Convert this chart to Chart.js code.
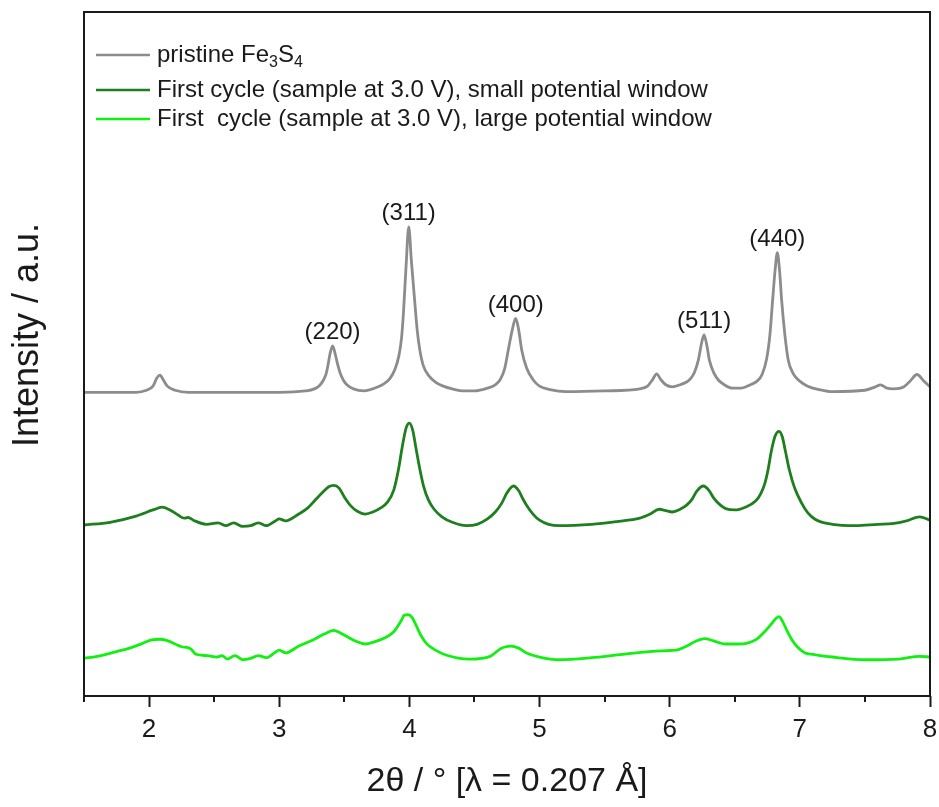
<!DOCTYPE html>
<html>
<head>
<meta charset="utf-8">
<title>Fe3S4 XRD patterns</title>
<script src="https://cdn.jsdelivr.net/npm/chart.js@4.4.1/dist/chart.umd.min.js"></script>
<style>
  html, body { margin: 0; padding: 0; background: #fff; }
  #wrap { width: 939px; height: 807px; }
</style>
</head>
<body>
<div id="wrap"><canvas id="xrd-chart"></canvas></div>
<script>
'use strict';

// 2theta positions and stacked intensities (a.u., offset per pattern)
const pristineX = [1.50, 1.90, 1.98, 2.03, 2.06, 2.084, 2.11, 2.14, 2.20, 2.30, 2.70, 3.00, 3.20, 3.27, 3.31, 3.34, 3.36,
    3.375, 3.39, 3.41, 3.43, 3.45, 3.47, 3.492, 3.52, 3.57, 3.65, 3.70, 3.76, 3.80, 3.85, 3.89, 3.92, 3.94, 3.955,
    3.975, 3.995, 4.015, 4.04, 4.06, 4.08, 4.107, 4.15, 4.20, 4.26, 4.33, 4.42, 4.50, 4.60, 4.66, 4.696, 4.73, 4.76,
    4.79, 4.817, 4.84, 4.863, 4.90, 4.952, 5.00, 5.08, 5.20, 5.50, 5.77, 5.83, 5.87, 5.90, 5.93, 5.97, 6.02, 6.08,
    6.13, 6.16, 6.19, 6.22, 6.245, 6.264, 6.285, 6.305, 6.34, 6.374, 6.42, 6.48, 6.55, 6.62, 6.669, 6.71, 6.745,
    6.77, 6.791, 6.81, 6.827, 6.845, 6.860, 6.885, 6.911, 6.95, 7.002, 7.06, 7.15, 7.25, 7.50, 7.58, 7.62, 7.67,
    7.72, 7.80, 7.85, 7.90, 7.95, 8.00];
const pristineY = [44.4, 44.4, 44.7, 45.3, 46.5, 46.9, 46.2, 45.3, 44.7, 44.4, 44.4, 44.4, 44.6, 44.9, 45.4, 46.2, 47.1,
    48.4, 50.0, 51.2, 50.0, 48.4, 47.1, 46.2, 45.5, 44.9, 44.6, 44.8, 45.2, 45.6, 46.4, 47.8, 49.8, 52.4, 56.2,
    63.0, 68.6, 63.7, 57.9, 53.5, 50.6, 48.3, 46.8, 45.9, 45.3, 44.9, 44.6, 44.6, 45.0, 45.5, 46.2, 47.7, 50.6,
    53.5, 55.2, 53.5, 50.6, 48.0, 46.2, 45.3, 44.8, 44.5, 44.6, 44.9, 45.3, 46.3, 47.1, 46.3, 45.5, 45.2, 45.5,
    45.9, 46.4, 47.3, 49.1, 51.6, 52.8, 51.3, 49.1, 47.2, 46.2, 45.5, 45.0, 45.0, 45.5, 46.0, 47.0, 49.3,
    52.8, 57.9, 62.3, 64.8, 62.0, 57.9, 52.8, 49.1, 47.1, 46.0, 45.3, 44.8, 44.5, 44.7, 45.2, 45.5, 45.0,
    44.9, 45.2, 46.1, 47.0, 46.1, 45.2];

const smallWinX = [1.50, 1.70, 1.90, 2.03, 2.10, 2.16, 2.22, 2.27, 2.30, 2.34, 2.44, 2.53, 2.59, 2.65, 2.72, 2.78, 2.84,
    2.90, 2.97, 3.00, 3.05, 3.15, 3.22, 3.27, 3.33, 3.38, 3.42, 3.46, 3.50, 3.55, 3.60, 3.66, 3.72, 3.78, 3.83,
    3.88, 3.915, 3.945, 3.975, 4.00, 4.025, 4.05, 4.082, 4.11, 4.145, 4.19, 4.25, 4.33, 4.44, 4.52, 4.60, 4.66,
    4.71, 4.75, 4.80, 4.84, 4.87, 4.90, 4.95, 5.00, 5.07, 5.15, 5.40, 5.59, 5.77, 5.85, 5.92, 5.97, 6.02, 6.08,
    6.13, 6.17, 6.21, 6.26, 6.30, 6.34, 6.39, 6.43, 6.50, 6.58, 6.66, 6.70, 6.73, 6.755, 6.78, 6.81, 6.84, 6.865,
    6.89, 6.92, 6.96, 7.014, 7.06, 7.12, 7.25, 7.43, 7.60, 7.71, 7.82, 7.92, 8.00];
const smallWinY = [25.0, 25.4, 26.3, 27.2, 27.6, 27.2, 26.5, 26.0, 26.1, 25.7, 25.1, 25.3, 24.9, 25.3, 24.8, 24.9, 25.3,
    24.9, 25.6, 25.9, 25.6, 26.6, 27.5, 28.5, 29.7, 30.6, 30.8, 30.4, 29.1, 27.8, 27.0, 26.6, 26.9, 27.5, 28.3,
    30.1, 33.0, 36.4, 39.2, 39.9, 38.9, 36.3, 33.0, 30.6, 28.7, 27.3, 26.2, 25.4, 24.9, 25.1, 25.9, 26.9,
    28.2, 29.7, 30.7, 30.0, 28.9, 27.9, 26.6, 25.7, 25.1, 24.9, 25.1, 25.5, 26.0, 26.6, 27.3, 27.1, 26.9, 27.3,
    27.9, 28.7, 30.0, 30.7, 30.1, 28.9, 27.9, 27.4, 27.2, 27.6, 28.5, 29.6, 31.0, 33.0, 35.7, 38.0, 38.7, 37.9,
    35.7, 33.0, 30.4, 28.2, 26.8, 25.8, 25.1, 24.9, 25.1, 25.2, 25.6, 26.2, 25.7];

const largeWinX = [1.50, 1.60, 1.75, 1.85, 1.95, 2.02, 2.08, 2.14, 2.20, 2.25, 2.29, 2.32, 2.36, 2.45, 2.52, 2.56, 2.60,
    2.66, 2.72, 2.78, 2.84, 2.90, 2.97, 3.00, 3.05, 3.15, 3.26, 3.35, 3.42, 3.47, 3.52, 3.59, 3.66, 3.73, 3.80,
    3.88, 3.94, 3.96, 3.99, 4.02, 4.05, 4.09, 4.13, 4.20, 4.28, 4.46, 4.62, 4.70, 4.74, 4.78, 4.84, 4.90, 5.00,
    5.15, 5.40, 5.64, 5.94, 6.05, 6.12, 6.20, 6.27, 6.33, 6.43, 6.52, 6.59, 6.66, 6.72, 6.78, 6.82, 6.84, 6.87,
    6.90, 6.94, 6.98, 7.04, 7.10, 7.25, 7.51, 7.76, 7.92, 8.00];
const largeWinY = [5.5, 5.8, 6.5, 7.0, 7.7, 8.2, 8.3, 8.1, 7.6, 7.2, 7.1, 6.9, 6.1, 5.9, 5.7, 5.9, 5.4,
    5.9, 5.3, 5.5, 5.9, 5.6, 6.4, 6.7, 6.3, 7.3, 8.2, 9.1, 9.6, 9.2, 8.7, 8.0, 7.6, 7.9, 8.4,
    9.4, 11.1, 11.8, 11.9, 11.5, 10.4, 8.8, 7.7, 6.7, 6.0, 5.4, 5.8, 6.9, 7.2, 7.3, 7.0, 6.3, 5.7,
    5.3, 5.6, 6.1, 6.6, 6.7, 7.2, 8.0, 8.4, 8.1, 7.6, 7.6, 7.7, 8.2, 9.2, 10.5, 11.4, 11.6, 10.8,
    9.6, 8.2, 7.2, 6.3, 6.1, 5.7, 5.3, 5.4, 5.8, 5.7];

const seriesLabels = [
    'pristine Fe_3S_4',
    'First cycle (sample at 3.0 V), small potential window',
    'First  cycle (sample at 3.0 V), large potential window',
];
const seriesColors = ['#8c8c8c', '#1d7f1d', '#12f012'];

const xTicks = [2, 3, 4, 5, 6, 7, 8];
const minorTicks = [1.5, 2.5, 3.5, 4.5, 5.5, 6.5, 7.5];

// hkl reflections of the spinel phase
const peakLabels = ['(220)', '(311)', '(400)', '(511)', '(440)'];
const peakPositions = [3.41, 3.995, 4.817, 6.264, 6.827];

const FONT = "'Liberation Sans', Arial, sans-serif";
const INK = '#1a1a1a';

function toPoints(xs, ys) {
    return xs.map((v, i) => ({x: v, y: ys[i]}));
}

// text with "_n" marking a subscript digit
function drawRichText(ctx, text, x, y, size) {
    const parts = text.split(/_(\d)/);
    parts.forEach((part, i) => {
        const sub = i % 2 === 1;
        ctx.font = (sub ? Math.round(size * 0.68) : size) + 'px ' + FONT;
        ctx.fillText(part, x, sub ? y + size * 0.32 : y);
        x += ctx.measureText(part).width;
    });
}

const framePlugin = {
    id: 'frame',
    afterDatasetsDraw(chart) {
        const {ctx, chartArea: a, scales: {x}} = chart;
        ctx.save();
        ctx.strokeStyle = INK;
        ctx.lineWidth = 2;
        ctx.strokeRect(a.left, a.top, a.right - a.left, a.bottom - a.top);
        ctx.beginPath();
        minorTicks.forEach(v => {
            const px = Math.round(x.getPixelForValue(v));
            ctx.moveTo(px, a.bottom);
            ctx.lineTo(px, a.bottom + 6);
        });
        ctx.stroke();

        // vertical axis title
        ctx.fillStyle = INK;
        ctx.font = '36px ' + FONT;
        ctx.textAlign = 'center';
        ctx.textBaseline = 'middle';
        ctx.translate(a.left - 56, (a.top + a.bottom) / 2 - 19);
        ctx.rotate(-Math.PI / 2);
        ctx.fillText('Intensity / a.u.', 0, 0);
        ctx.restore();
    },
};

const peakLabelPlugin = {
    id: 'peakLabels',
    afterDatasetsDraw(chart) {
        const {ctx, scales: {x, y}} = chart;
        ctx.save();
        ctx.font = '24px ' + FONT;
        ctx.fillStyle = INK;
        ctx.textAlign = 'center';
        ctx.textBaseline = 'bottom';
        peakLabels.forEach((label, i) => {
            const pos = peakPositions[i];
            let top = -Infinity;
            pristineX.forEach((t, j) => {
                if (Math.abs(t - pos) < 0.05) top = Math.max(top, pristineY[j]);
            });
            ctx.fillText(label, x.getPixelForValue(pos), y.getPixelForValue(top) - 1);
        });
        ctx.restore();
    },
};

const legendPlugin = {
    id: 'subLegend',
    afterDraw(chart) {
        const {ctx, chartArea: a} = chart;
        ctx.save();
        ctx.fillStyle = INK;
        ctx.textBaseline = 'middle';
        let rowY = a.top + 43;
        chart.data.datasets.forEach(ds => {
            ctx.strokeStyle = ds.borderColor;
            ctx.lineWidth = 2.5;
            ctx.beginPath();
            ctx.moveTo(a.left + 12, rowY);
            ctx.lineTo(a.left + 66, rowY);
            ctx.stroke();
            drawRichText(ctx, ds.label, a.left + 73, rowY, 24);
            rowY += ds.label.includes('_') ? 35 : 29;
        });
        ctx.restore();
    },
};

const series = [
    toPoints(pristineX, pristineY),
    toPoints(smallWinX, smallWinY),
    toPoints(largeWinX, largeWinY),
];

const ctx = document.getElementById('xrd-chart').getContext('2d');
window.xrdChart = new Chart(ctx, {
    type: 'line',
    data: {
        datasets: series.map((pts, i) => ({
            label: seriesLabels[i],
            data: pts,
            borderColor: seriesColors[i],
            borderWidth: 2.8,
            pointRadius: 0,
            fill: false,
            cubicInterpolationMode: 'monotone',
        })),
    },
    options: {
        responsive: true,
        maintainAspectRatio: false,
        animation: false,
        layout: {padding: {top: 12, right: 9, left: 0, bottom: 0}},
        plugins: {
            legend: {display: false},
            tooltip: {enabled: false},
        },
        scales: {
            x: {
                type: 'linear',
                min: 1.5,
                max: 8,
                afterBuildTicks: scale => {
                    scale.ticks = xTicks.map(v => ({value: v}));
                },
                afterFit: scale => {
                    scale.height = 111;
                    scale.paddingLeft = 0;
                    scale.paddingRight = 0;
                },
                grid: {
                    drawOnChartArea: false,
                    drawTicks: true,
                    tickLength: 11,
                    tickWidth: 2,
                    tickColor: INK,
                },
                border: {display: false},
                ticks: {
                    color: INK,
                    padding: 7,
                    maxRotation: 0,
                    font: {family: FONT, size: 26},
                },
                title: {
                    display: true,
                    text: '2θ / ° [λ = 0.207 Å]',
                    color: INK,
                    font: {family: FONT, size: 34},
                    padding: {top: 0, bottom: 5},
                },
            },
            y: {
                min: 0,
                max: 100,
                afterFit: scale => {
                    scale.width = 84;
                },
                grid: {display: false},
                border: {display: false},
                ticks: {display: false},
            },
        },
    },
    plugins: [framePlugin, peakLabelPlugin, legendPlugin],
});
</script>
</body>
</html>
